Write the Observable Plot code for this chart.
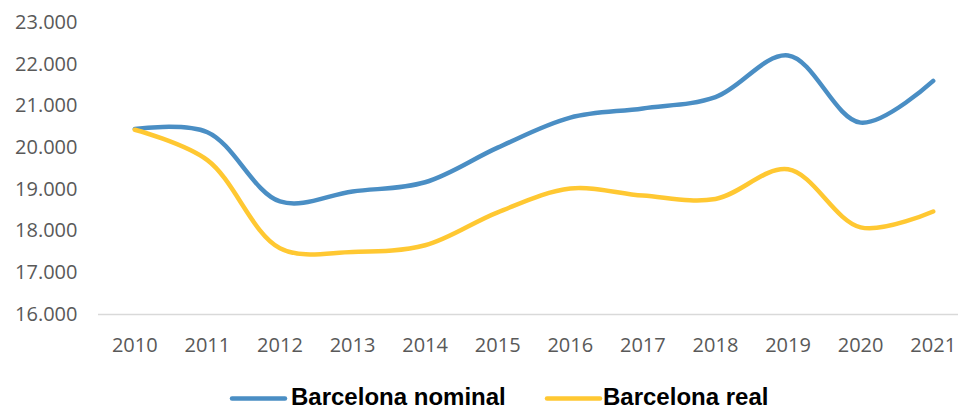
<!DOCTYPE html>
<html>
<head>
<meta charset="utf-8">
<script src="https://cdn.jsdelivr.net/npm/d3@7"></script>
<script src="https://cdn.jsdelivr.net/npm/@observablehq/plot@0.6"></script>
<style>
  body { margin: 0; background: #fff; font-family: "Open Sans", sans-serif; }
  #wrap { width: 958px; height: 410px; }
  #legend { display: block; }
</style>
</head>
<body>
<div id="wrap">
  <div id="chart"></div>
  <svg id="legend" width="958" height="38"></svg>
</div>
<script>
const years = [2010, 2011, 2012, 2013, 2014, 2015, 2016, 2017, 2018, 2019, 2020, 2021];
const nominal = [20450, 20370, 18710, 18950, 19170, 20000, 20720, 20940, 21210, 22210, 20600, 21600];
const real = [20430, 19700, 17590, 17500, 17660, 18450, 19020, 18850, 18770, 19480, 18090, 18470];
const yTicks = [16000, 17000, 18000, 19000, 20000, 21000, 22000, 23000];
const seriesNames = ["Barcelona nominal", "Barcelona real"];
const seriesColors = ["#4a8ec4", "#ffc832"];

const fmt = d3.formatLocale({decimal: ",", thousands: ".", grouping: [3], currency: ["", "€"]}).format(",");

const dataNominal = years.map((y, i) => ({year: y, value: nominal[i]}));
const dataReal = years.map((y, i) => ({year: y, value: real[i]}));

const chart = Plot.plot({
  width: 958,
  height: 372,
  marginLeft: 98,
  marginRight: 0,
  marginTop: 22,
  marginBottom: 58,
  x: {domain: [2009.5, 2021.5], range: [98, 969]},
  y: {domain: [16000, 23000]},
  style: {fontFamily: "Open Sans, sans-serif", background: "#fff"},
  marks: [
    Plot.ruleY([16000], {stroke: "#d9d9d9", strokeWidth: 1.5}),
    Plot.axisX(years, {tickSize: 0, tickPadding: 23, tickFormat: d => String(d), fontSize: 20, fill: "#595959", label: null}),
    Plot.axisY(yTicks, {tickSize: 0, tickPadding: 21, tickFormat: fmt, fontSize: 20, fill: "#595959", label: null}),
    Plot.line(dataNominal, {x: "year", y: "value", stroke: seriesColors[0], strokeWidth: 4.5, curve: "catmull-rom"}),
    Plot.line(dataReal, {x: "year", y: "value", stroke: seriesColors[1], strokeWidth: 4.5, curve: "catmull-rom"})
  ]
});
document.getElementById("chart").appendChild(chart);

const legend = d3.select("#legend");
const swX = [232, 547];
const txX = [291, 603];
seriesNames.forEach((name, i) => {
  legend.append("line")
    .attr("x1", swX[i]).attr("x2", swX[i] + 53)
    .attr("y1", 26.5).attr("y2", 26.5)
    .attr("stroke", seriesColors[i]).attr("stroke-width", 4.5).attr("stroke-linecap", "round");
  legend.append("text")
    .attr("x", txX[i]).attr("y", 32.5)
    .attr("font-family", "Liberation Sans, Arial, sans-serif")
    .attr("font-weight", 700)
    .attr("font-size", 24)
    .attr("fill", "#000")
    .text(name);
});
</script>
</body>
</html>
